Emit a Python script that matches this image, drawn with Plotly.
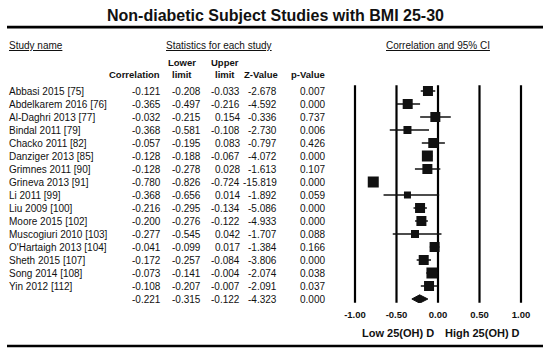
import plotly.graph_objects as go

# ---------------- data ----------------
studies = ["Abbasi 2015 [75]", "Abdelkarem 2016 [76]", "Al-Daghri 2013 [77]", "Bindal 2011 [79]",
           "Chacko 2011 [82]", "Danziger 2013 [85]", "Grimnes 2011 [90]", "Grineva 2013 [91]",
           "Li 2011 [99]", "Liu 2009 [100]", "Moore 2015 [102]", "Muscogiuri 2010 [103]",
           "O'Hartaigh 2013 [104]", "Sheth 2015 [107]", "Song 2014 [108]", "Yin 2012 [112]"]
corr = [-0.121, -0.365, -0.032, -0.368, -0.057, -0.128, -0.128, -0.780, -0.368, -0.216,
        -0.200, -0.277, -0.041, -0.172, -0.073, -0.108]
lower = [-0.208, -0.497, -0.215, -0.581, -0.195, -0.188, -0.278, -0.826, -0.656, -0.295,
         -0.276, -0.545, -0.099, -0.257, -0.141, -0.207]
upper = [-0.033, -0.216, 0.154, -0.108, 0.083, -0.067, 0.028, -0.724, 0.014, -0.134,
         -0.122, 0.042, 0.017, -0.084, -0.004, -0.007]
zval = [-2.678, -4.592, -0.336, -2.730, -0.797, -4.072, -1.613, -15.819, -1.892, -5.086,
        -4.933, -1.707, -1.384, -3.806, -2.074, -2.091]
pval = [0.007, 0.000, 0.737, 0.006, 0.426, 0.000, 0.107, 0.000, 0.059, 0.000,
        0.000, 0.088, 0.166, 0.000, 0.038, 0.037]
weights = [10, 10, 10, 8, 10, 11, 10, 11, 7, 10, 10, 8, 10, 10, 11, 10]  # relative study weight
summary = {"corr": -0.221, "lower": -0.315, "upper": -0.122, "z": -4.323, "p": 0.000}

tick_vals = [-1.0, -0.5, 0.0, 0.5, 1.0]
tick_text = ["-1.00", "-0.50", "0.00", "0.50", "1.00"]

title = "Non-diabetic Subject Studies with BMI 25-30"

# ---------------- layout helpers ----------------
W, H = 550, 352
FONT = "Liberation Sans, Arial, sans-serif"
INK = "#111111"
RULE = "#000000"


def px_x(px):
    return px / W


def px_y(py):
    return 1 - py / H


n = len(studies)
rows = list(range(n))
sum_row = n

# ---------------- axes geometry ----------------
xr = [-1.05, 1.05]
ppu = 83.0
x0_px = 438 - ppu * 1.05
x1_px = 438 + ppu * 1.05

row_px = 13.0
top_px, bot_px = 85, 303
first_row_px = 91
yr_top = (top_px - first_row_px) / row_px
yr_bot = (bot_px - first_row_px) / row_px

fig = go.Figure()

# vertical reference lines at the tick values, spanning the whole plot height
vx, vy = [], []
for v in tick_vals:
    vx += [v, v, None]
    vy += [yr_top + 0.02, yr_bot - 0.02, None]
fig.add_trace(go.Scatter(x=vx, y=vy, mode="lines", line=dict(color=RULE, width=2.2),
                         hoverinfo="skip", showlegend=False))

# CI lines
cx, cy = [], []
for i in rows:
    cx += [lower[i], upper[i], None]
    cy += [i, i, None]
fig.add_trace(go.Scatter(x=cx, y=cy, mode="lines", line=dict(color=INK, width=1.6),
                         hoverinfo="skip", showlegend=False))

# squares
fig.add_trace(go.Scatter(x=corr, y=rows, mode="markers",
                         marker=dict(symbol="square", size=weights, color=INK, opacity=1,
                                     line=dict(width=0)),
                         showlegend=False))

# summary diamond
dh = 0.32
fig.add_trace(go.Scatter(
    x=[summary["lower"], summary["corr"], summary["upper"], summary["corr"], summary["lower"]],
    y=[sum_row, sum_row - dh, sum_row, sum_row + dh, sum_row],
    mode="lines", fill="toself", fillcolor=INK, line=dict(color=INK, width=1),
    showlegend=False, hoverinfo="skip"))

fig.update_layout(
    template="none",
    width=W, height=H, margin=dict(l=0, r=0, t=0, b=0, autoexpand=False),
    paper_bgcolor="white", plot_bgcolor="rgba(0,0,0,0)",
    font=dict(family=FONT, color=INK, size=10),
    showlegend=False,
    xaxis=dict(domain=[px_x(x0_px), px_x(x1_px)], range=xr, tickvals=tick_vals,
               ticktext=tick_text, showgrid=False,
               zeroline=False, showline=False, ticks="outside", ticklen=3,
               tickcolor="rgba(0,0,0,0)",
               tickfont=dict(family=FONT, size=9.5, color=INK, weight="bold"),
               fixedrange=True),
    yaxis=dict(domain=[px_y(bot_px), px_y(top_px)], range=[yr_bot, yr_top],
               showgrid=False, zeroline=False, showticklabels=False, ticks="",
               showline=False, fixedrange=True),
)

ann = []
hdr_font = dict(family=FONT, size=9.5, color=INK, weight="bold")
txt_font = dict(family=FONT, size=10, color=INK)

# title
ann.append(dict(text="<b>" + title + "</b>", x=px_x(275), y=px_y(16), xref="paper", yref="paper",
                xanchor="center", yanchor="middle", showarrow=False,
                font=dict(family=FONT, size=16, color=INK)))

# section headers
ann.append(dict(text="<u>Study name</u>", x=px_x(7), y=px_y(46), xref="paper", yref="paper",
                xanchor="left", yanchor="middle", showarrow=False, font=txt_font))
ann.append(dict(text="<u>Statistics for each study</u>", x=px_x(219), y=px_y(46), xref="paper",
                yref="paper", xanchor="center", yanchor="middle", showarrow=False, font=txt_font))
ann.append(dict(text="<u>Correlation and 95% CI</u>", x=0, y=px_y(46), xref="x",
                yref="paper", xanchor="center", yanchor="middle", showarrow=False, font=txt_font))

# column headers
col_hdrs = [("Correlation", 162, "right", 74), ("Lower", 182, "center", 63), ("limit", 182, "center", 74),
            ("Upper", 225, "center", 63), ("limit", 225, "center", 74),
            ("Z-Value", 280, "right", 74), ("p-Value", 327, "right", 74)]
for t, xp, anc, yp in col_hdrs:
    ann.append(dict(text=t, x=px_x(xp), y=px_y(yp), xref="paper", yref="paper",
                    xanchor=anc, yanchor="middle", showarrow=False, font=hdr_font))

# row texts
col_right = [163, 203, 242, 279, 327]
for i in rows:
    ann.append(dict(text=studies[i], x=px_x(7), y=i, xref="paper", yref="y", xanchor="left",
                    yanchor="middle", showarrow=False, font=txt_font))
    vals = [f"{corr[i]:.3f}", f"{lower[i]:.3f}", f"{upper[i]:.3f}", f"{zval[i]:.3f}", f"{pval[i]:.3f}"]
    for v, xp in zip(vals, col_right):
        ann.append(dict(text=v, x=px_x(xp), y=i, xref="paper", yref="y", xanchor="right",
                        yanchor="middle", showarrow=False, font=txt_font))
svals = [f"{summary['corr']:.3f}", f"{summary['lower']:.3f}", f"{summary['upper']:.3f}",
         f"{summary['z']:.3f}", f"{summary['p']:.3f}"]
for v, xp in zip(svals, col_right):
    ann.append(dict(text=v, x=px_x(xp), y=sum_row, xref="paper", yref="y", xanchor="right",
                    yanchor="middle", showarrow=False, font=txt_font))

# direction labels
lab_font = dict(family=FONT, size=11, color=INK, weight="bold")
ann.append(dict(text="Low 25(OH) D", x=-0.02, y=px_y(333), xref="x", yref="paper",
                xanchor="right", yanchor="middle", showarrow=False, font=lab_font))
ann.append(dict(text="High 25(OH) D", x=0.06, y=px_y(333), xref="x", yref="paper",
                xanchor="left", yanchor="middle", showarrow=False, font=lab_font))

fig.update_layout(annotations=ann)

# horizontal rules (top under the title, bottom closing the figure)
fig.add_shape(type="rect", xref="paper", yref="paper", x0=px_x(7), x1=px_x(543),
              y0=px_y(28.4), y1=px_y(25.7), fillcolor=RULE, line=dict(width=0),
              layer="above")
fig.add_shape(type="rect", xref="paper", yref="paper", x0=px_x(7), x1=px_x(543),
              y0=px_y(347.3), y1=px_y(344.7), fillcolor=RULE, line=dict(width=0),
              layer="above")

fig.write_html("out.html", config={"displayModeBar": False},
               post_script="document.body.style.margin='0';")
